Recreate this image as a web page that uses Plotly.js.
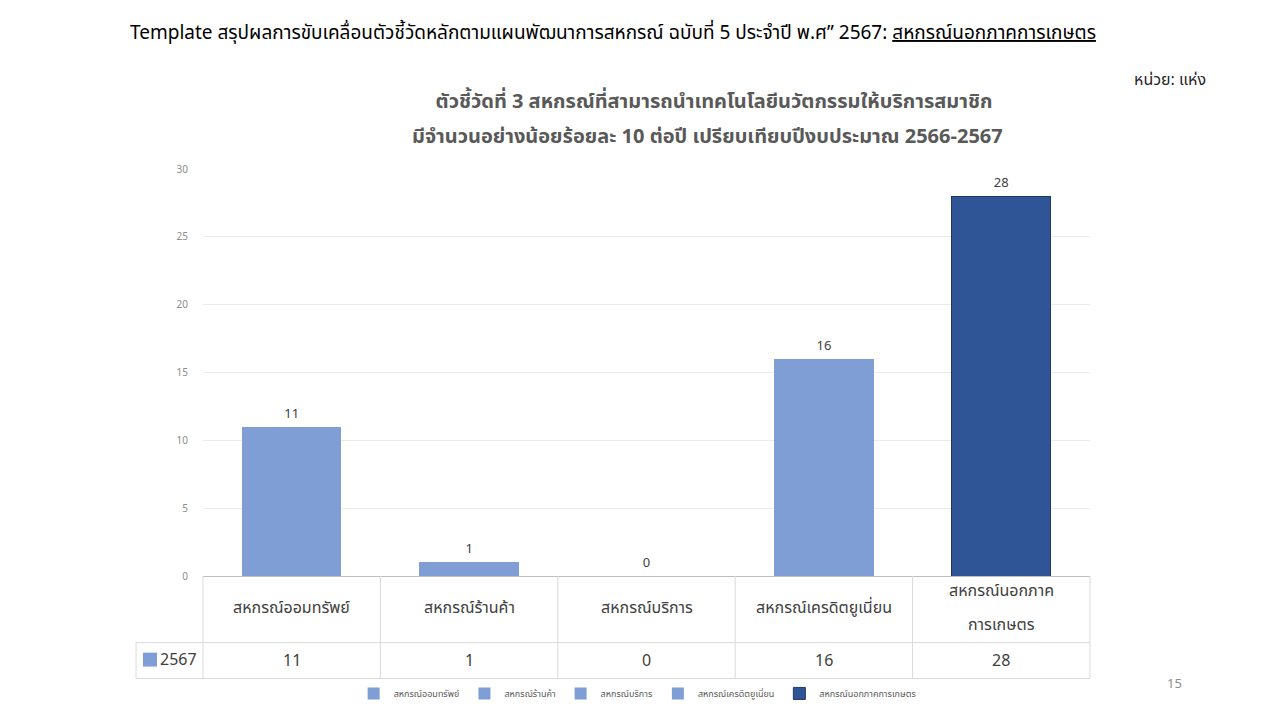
<!DOCTYPE html>
<html>
<head>
<meta charset="utf-8">
<script src="https://cdn.plot.ly/plotly-3.0.1.min.js"></script>
<style>
html,body{margin:0;padding:0;background:#fff;}
#chart{width:1280px;height:720px;}
</style>
</head>
<body>
<div id="chart"></div>
<script>
const categories = ["สหกรณ์ออมทรัพย์", "สหกรณ์ร้านค้า", "สหกรณ์บริการ", "สหกรณ์เครดิตยูเนี่ยน", "สหกรณ์นอกภาคการเกษตร"];
const tableLabels = [["สหกรณ์ออมทรัพย์"], ["สหกรณ์ร้านค้า"], ["สหกรณ์บริการ"], ["สหกรณ์เครดิตยูเนี่ยน"], ["สหกรณ์นอกภาค", "การเกษตร"]];
const values2567 = [11, 1, 0, 16, 28];
const seriesName = "2567";
const barColors = ["#7F9ED6", "#7F9ED6", "#7F9ED6", "#7F9ED6", "#2F5597"];
const barLines = ["#7F9ED6", "#7F9ED6", "#7F9ED6", "#7F9ED6", "#203864"];
const yTicks = [0, 5, 10, 15, 20, 25, 30];
const titleLines = ["ตัวชี้วัดที่ 3 สหกรณ์ที่สามารถนำเทคโนโลยีนวัตกรรมให้บริการสมาชิก", "มีจำนวนอย่างน้อยร้อยละ 10 ต่อปี เปรียบเทียบปีงบประมาณ 2566-2567"];

const FONT = "Tahoma, 'Noto Sans Thai', 'Noto Sans', 'DejaVu Sans', sans-serif";
const PH = 409; // plot height px (for paper offsets)

const traces = categories.map((c, i) => ({
  type: "bar",
  name: c,
  x: [c],
  y: [values2567[i]],
  marker: {color: barColors[i], line: {color: barLines[i], width: i === 4 ? 1 : 0}},
  text: [String(values2567[i])],
  textposition: "outside",
  textfont: {family: FONT, size: 13, color: "#404040"},
  cliponaxis: false,
  hoverinfo: "x+y"
}));

const shapes = [];
const lineStyle = {color: "#D9D9D9", width: 1};
shapes.push({type: "line", xref: "paper", yref: "paper", x0: -0.0755, x1: 1, y0: -0.1638, y1: -0.1638, line: lineStyle});
shapes.push({type: "line", xref: "paper", yref: "paper", x0: -0.0755, x1: 1, y0: -0.2518, y1: -0.2518, line: lineStyle});
shapes.push({type: "line", xref: "paper", yref: "paper", x0: 0, x1: 0, y0: 0, y1: -0.2518, line: lineStyle});
shapes.push({type: "line", xref: "paper", yref: "paper", x0: 1, x1: 1, y0: 0, y1: -0.2518, line: lineStyle});
shapes.push({type: "line", xref: "paper", yref: "paper", x0: -0.0755, x1: -0.0755, y0: -0.1638, y1: -0.2518, line: lineStyle});
for (let k = 1; k < categories.length; k++) {
  shapes.push({type: "line", xref: "x", yref: "paper", x0: k - 0.5, x1: k - 0.5, y0: 0, y1: -0.2518, line: lineStyle});
}
shapes.push({type: "rect", xref: "paper", yref: "paper", x0: -0.0677, x1: -0.0519, y0: -0.1883, y1: -0.2225, fillcolor: "#7F9ED6", line: {width: 0}});

const annotations = [];
categories.forEach((c, i) => {
  const lines = tableLabels[i];
  const centerPx = 610;
  const spacing = 34;
  lines.forEach((ln, j) => {
    const py = centerPx + (j - (lines.length - 1) / 2) * spacing;
    annotations.push({xref: "x", yref: "paper", x: c, y: (578 - py) / PH, text: ln, showarrow: false,
      font: {family: FONT, size: 16, color: "#404040"}, yanchor: "middle", xanchor: "center"});
  });
  annotations.push({xref: "x", yref: "paper", x: c, y: -0.2078, text: String(values2567[i]), showarrow: false,
    font: {family: FONT, size: 16, color: "#404040"}, yanchor: "middle", xanchor: "center"});
});
annotations.push({xref: "paper", yref: "paper", x: -0.0045, y: -0.2054, text: seriesName, showarrow: false,
  font: {family: FONT, size: 16, color: "#404040"}, xanchor: "right", yanchor: "middle"});
annotations.push({xref: "paper", yref: "paper", x: (128 - 203) / 887, y: (578 - 33) / PH,
  text: "Template สรุปผลการขับเคลื่อนตัวชี้วัดหลักตามแผนพัฒนาการสหกรณ์ ฉบับที่ 5 ประจำปี พ.ศ” 2567: <u>สหกรณ์นอกภาคการเกษตร</u>",
  showarrow: false, xanchor: "left", yanchor: "middle", font: {family: FONT, size: 19, color: "#000000"}});
annotations.push({xref: "paper", yref: "paper", x: (1208 - 203) / 887, y: (578 - 80) / PH, text: "หน่วย: แห่ง",
  showarrow: false, xanchor: "right", yanchor: "middle", font: {family: FONT, size: 16, color: "#262626"}});
annotations.push({xref: "paper", yref: "paper", x: (1174 - 203) / 887, y: (578 - 687) / PH, text: "15",
  showarrow: false, xanchor: "center", yanchor: "middle", font: {family: FONT, size: 13, color: "#8C8C8C"}});
annotations.push({xref: "paper", yref: "paper", x: (707 - 203) / 887, y: (578 - 137) / PH, text: "<b>" + titleLines[1] + "</b>",
  showarrow: false, xanchor: "center", yanchor: "middle", font: {family: FONT, size: 20, color: "#595959"}});

const layout = {
  width: 1280, height: 720,
  paper_bgcolor: "#ffffff", plot_bgcolor: "#ffffff",
  margin: {l: 203, r: 190, t: 169, b: 142, pad: 0},
  title: {
    text: "<b>" + titleLines[0] + "</b>",
    x: 714 / 1280, xref: "container", xanchor: "center",
    y: 1 - 101 / 720, yref: "container", yanchor: "middle",
    font: {family: FONT, size: 20, color: "#595959"}
  },
  barmode: "stack",
  bargap: 0.44,
  showlegend: true,
  legend: {
    orientation: "h", x: 0.49, xanchor: "center", y: (578 - 696) / PH, yanchor: "middle",
    font: {family: FONT, size: 9, color: "#595959"},
    itemwidth: 30, tracegroupgap: 0, traceorder: "normal"
  },
  xaxis: {
    type: "category", categoryorder: "array", categoryarray: categories,
    showticklabels: false, ticks: "", showgrid: false,
    showline: true, linecolor: "#BFBFBF", linewidth: 1, zeroline: false, fixedrange: true
  },
  yaxis: {
    range: [0, 30], tickvals: yTicks, ticktext: yTicks.map(String),
    showgrid: true, gridcolor: "#EBEBEB", gridwidth: 1, zeroline: false, showline: false,
    tickfont: {family: FONT, size: 10, color: "#8C8C8C"}, ticks: "", ticklabelstandoff: 14,
    fixedrange: true
  },
  shapes: shapes,
  annotations: annotations
};

Plotly.newPlot("chart", traces, layout, {displayModeBar: false, staticPlot: true});
</script>
</body>
</html>
